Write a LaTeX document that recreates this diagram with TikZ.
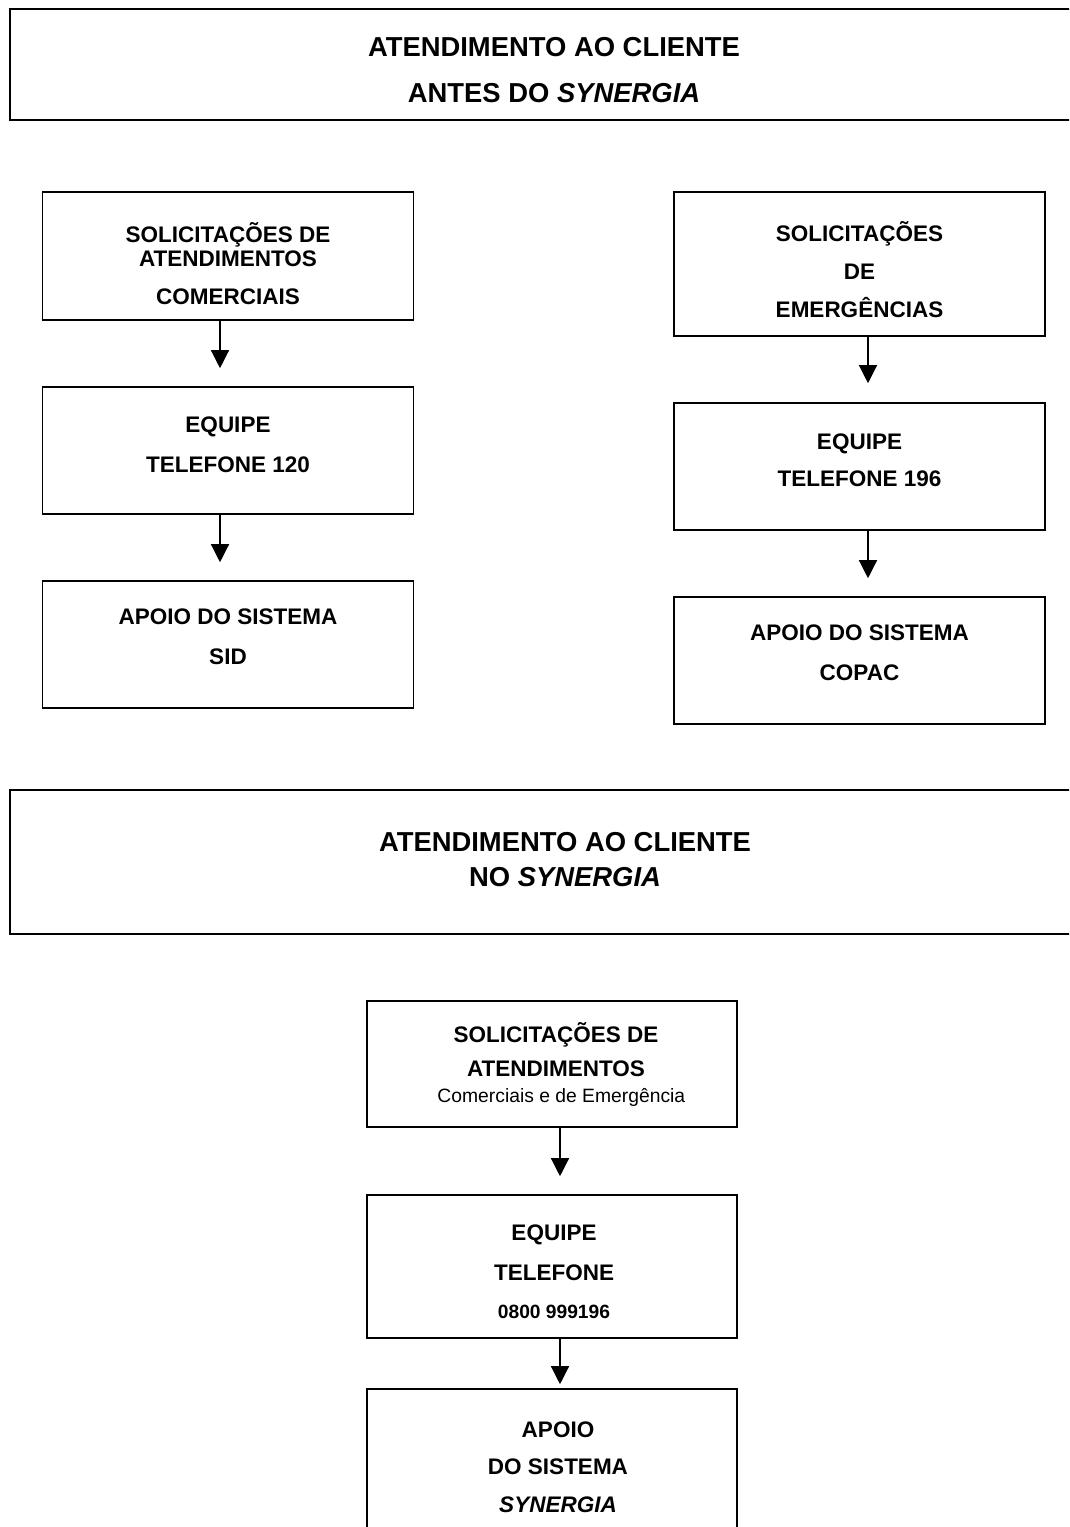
\documentclass[tikz,border=0pt]{standalone}
\usepackage{fontspec}
\setmainfont{Liberation Sans}
\usetikzlibrary{arrows.meta}
\begin{document}
\begin{tikzpicture}[x=1pt, y=-1pt]
\tikzstyle{box}=[draw, line width=1.6pt, minimum width=371pt, inner sep=0pt]
\tikzstyle{txt}=[align=center, inner sep=0pt, font=\fontsize{22.5}{24}\selectfont\bfseries]
\tikzstyle{ttl}=[align=center, inner sep=0pt, font=\fontsize{27.4}{30}\selectfont\bfseries]
\tikzstyle{arr}=[line width=1.3pt, -{Triangle[width=18pt, length=18pt]}]

\useasboundingbox (0,0) rectangle (1069,1527);
\clip (0,0) rectangle (1069,1527);

\node[box, minimum width=1090pt, minimum height=111pt] (H1) at (555,64.5) {};
\node[ttl] (H1t) at (554,70) {ATENDIMENTO AO CLIENTE\\[16pt] ANTES DO \textit{SYNERGIA}};

\node[box, minimum height=128pt] (L1) at (228,256) {};
\node[txt] (L1t) at (228,264) {SOLICITAÇÕES DE\\ ATENDIMENTOS\\[14pt] COMERCIAIS};
\node[box, minimum height=127pt] (L2) at (228,450.5) {};
\node[txt] (L2t) at (228,445) {EQUIPE\\[16pt] TELEFONE 120};
\node[box, minimum height=127pt] (L3) at (228,644.5) {};
\node[txt] (L3t) at (228,637) {APOIO DO SISTEMA\\[16pt] SID};

\node[box, minimum height=144pt] (R1) at (859.5,264) {};
\node[txt] (R1t) at (859.5,270) {SOLICITAÇÕES\\[14pt] DE\\[14pt] EMERGÊNCIAS};
\node[box, minimum height=127pt] (R2) at (859.5,466.5) {};
\node[txt] (R2t) at (859.5,460.5) {EQUIPE\\[13pt] TELEFONE 196};
\node[box, minimum height=127pt] (R3) at (859.5,660.5) {};
\node[txt] (R3t) at (859.5,653) {APOIO DO SISTEMA\\[16pt] COPAC};

\node[box, minimum width=1110pt, minimum height=144pt] (H2) at (565,862) {};
\node[ttl] (H2t) at (565,859.5) {ATENDIMENTO AO CLIENTE\\[5pt] NO \textit{SYNERGIA}};

\node[box, minimum width=370pt, minimum height=126pt] (B1) at (552,1064) {};
\node[txt] (B1t) at (556,1064) {SOLICITAÇÕES DE\\[10pt] ATENDIMENTOS\\[2pt] {\fontsize{19.3}{24}\selectfont\mdseries\ \ Comerciais e de Emergência}};
\node[box, minimum width=370pt, minimum height=143pt] (B2) at (552,1266.5) {};
\node[txt] (B2t) at (554,1271.5) {EQUIPE\\[16pt] TELEFONE\\[14pt] {\fontsize{19.2}{24}\selectfont 0800 999196}};
\node[box, minimum width=370pt, minimum height=171pt] (B3) at (552,1474.5) {};
\node[txt] (B3t) at (558,1467) {APOIO\\[13pt] DO SISTEMA\\[14pt] \textit{SYNERGIA}};

\draw[arr, shorten >=18pt] ([xshift=-8pt]L1.south) -- ([xshift=-8pt]L2.north);
\draw[arr, shorten >=18pt] ([xshift=-8pt]L2.south) -- ([xshift=-8pt]L3.north);
\draw[arr, shorten >=19pt] ([xshift=8.5pt]R1.south) -- ([xshift=8.5pt]R2.north);
\draw[arr, shorten >=18pt] ([xshift=8.5pt]R2.south) -- ([xshift=8.5pt]R3.north);
\draw[arr, shorten >=18pt] ([xshift=8pt]B1.south) -- ([xshift=8pt]B2.north);
\draw[arr, shorten >=4pt] ([xshift=8pt]B2.south) -- ([xshift=8pt]B3.north);
\end{tikzpicture}
\end{document}
